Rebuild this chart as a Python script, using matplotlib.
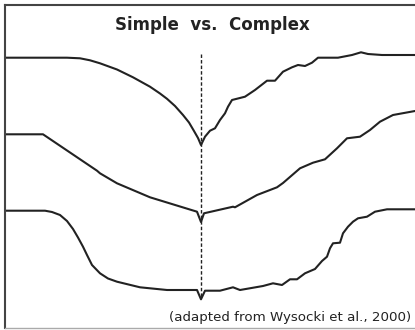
# Simple vs. Complex response curves (adapted from Wysocki et al., 2000)

import matplotlib.pyplot as plt

# time axis runs left to right, response axis runs top to bottom (image-like units)
simple_t = [5, 67, 80, 90, 100, 117, 133, 150, 160, 167, 175, 183, 189, 194, 198, 201,
            205, 210, 215, 220, 225, 228, 232, 245, 255, 267, 275, 283, 292, 298,
            305, 312, 318, 338, 352, 361, 368, 382, 420]
simple_r = [57.7, 57.7, 58.3, 60.3, 63.3, 69.5, 77.3, 86.7, 93.5, 98.8, 106, 115, 122.5,
            131, 138, 145,
            136.7, 130.7, 128.3, 120, 113.3, 106.7, 100, 96.7, 90, 80.7, 80.7, 71.7,
            67.3, 65, 66, 62.7, 57.7, 57.7, 55, 52.3, 54, 55, 55]

mid_t = [5, 43, 97, 100, 117, 150, 197, 201, 204, 233, 235, 257, 277, 283, 300,
         313, 325, 337, 347, 360, 370, 380, 393, 415, 420]
mid_r = [134.3, 134.3, 170.7, 173.3, 183.3, 197.3, 211.7, 222, 213.3, 206.7, 207.3,
         195, 187.3, 183, 168.3, 162.7, 159.3, 148.3, 138.3, 136.7, 130, 121.7, 115,
         111, 110.5]

complex_t = [5, 45, 52, 60, 67, 73, 78, 83, 87, 92, 100, 108, 117, 140, 167, 197, 201,
             205, 220, 233, 240, 263, 273, 282, 290, 297, 305, 315, 322, 327, 330, 333,
             340, 343, 348, 353, 358, 367, 375, 387, 420]
complex_r = [210.7, 210.7, 212, 215, 221, 229, 237.5, 246.7, 255, 265, 273.3, 278.5,
             281.7, 287.3, 290, 290, 299.3, 290.7, 290.7, 287.3, 290, 286, 283.3, 285,
             279.3, 279.3, 273.3, 269, 261, 256.7, 248.3, 243.3, 242.7, 233.3, 226.7,
             221.7, 218.3, 216.7, 211.7, 209.3, 209.3]

onset_t = 201
onset_span = (54, 297)

fig = plt.figure(figsize=(4.15, 3.30), dpi=100)
# axes run a little past the right edge so the panel looks cut off there
ax = fig.add_axes([4.5 / 415, 2 / 330, (420 - 4.5) / 415, (328 - 4.5) / 330])
ax.set_xlim(4.5, 420)
ax.set_ylim(328, 4.5)

line_color = '#222222'
for t, r in [(simple_t, simple_r), (mid_t, mid_r), (complex_t, complex_r)]:
    ax.plot(t, r, color=line_color, lw=1.5, solid_joinstyle='round')

ax.vlines(onset_t, onset_span[0], onset_span[1], color=line_color, lw=1.0,
          linestyles=(0, (2.5, 1.5)))

ax.text(212, 25, 'Simple  vs.  Complex', ha='center', va='center',
        fontsize=12, fontweight='bold', color='#222222')
ax.text(411, 318, '(adapted from Wysocki et al., 2000)', ha='right', va='center',
        fontsize=9.6, color='#222222')

ax.set_xticks([])
ax.set_yticks([])
ax.spines['right'].set_visible(False)
ax.spines['left'].set_color('#444444')
ax.spines['left'].set_linewidth(1.5)
ax.spines['top'].set_color('#444444')
ax.spines['top'].set_linewidth(1.5)
ax.spines['bottom'].set_color('#aaaaaa')
ax.spines['bottom'].set_linewidth(1.0)

fig.savefig('out.png', dpi=100)
